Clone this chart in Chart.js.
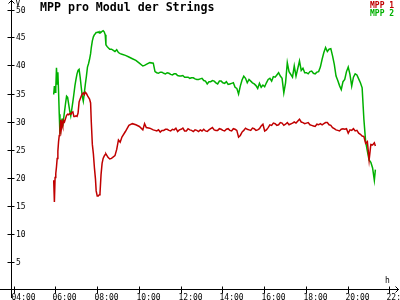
<!DOCTYPE html>
<html>
<head>
<meta charset="utf-8">
<script src="https://cdn.jsdelivr.net/npm/chart.js@4.4.1/dist/chart.umd.min.js"></script>
<style>
  html, body { margin: 0; padding: 0; background: #fff; }
  canvas { display: block; }
</style>
</head>
<body>
<canvas id="myChart" width="400" height="300"></canvas>
<script>
const times = [
  '05:54','05:56','05:58','06:00','06:02','06:04','06:06','06:08','06:10','06:12',
  '06:14','06:16','06:18','06:20','06:22','06:25','06:28','06:31','06:34','06:37',
  '06:40','06:43','06:46','06:49','06:52','06:55','06:58','07:01','07:04','07:07',
  '07:10','07:13','07:16','07:19','07:22','07:25','07:28','07:31','07:34','07:37',
  '07:40','07:42','07:45','07:48','07:51','07:54','07:56','07:59','08:02','08:05',
  '08:07','08:10','08:13','08:16','08:19','08:22','08:24','08:27','08:30','08:35',
  '08:40','08:50','08:55','09:00','09:05','09:10','09:20','09:30','09:40','09:50',
  '10:00','10:10','10:15','10:20','10:30','10:40','10:45','10:50','10:55','11:00',
  '11:05','11:10','11:15','11:20','11:25','11:30','11:35','11:40','11:45','11:50',
  '11:55','12:00','12:05','12:10','12:15','12:20','12:25','12:30','12:35','12:40',
  '12:45','12:50','12:55','13:00','13:05','13:10','13:15','13:20','13:25','13:30',
  '13:35','13:40','13:45','13:50','13:55','14:00','14:05','14:10','14:15','14:20',
  '14:25','14:30','14:35','14:40','14:45','14:50','14:55','15:00','15:05','15:10',
  '15:15','15:20','15:25','15:30','15:35','15:40','15:45','15:50','15:55','16:00',
  '16:05','16:10','16:15','16:20','16:25','16:30','16:35','16:40','16:45','16:50',
  '16:55','17:00','17:05','17:10','17:20','17:25','17:30','17:40','17:45','17:50',
  '17:55','18:00','18:05','18:10','18:15','18:20','18:25','18:30','18:35','18:40',
  '18:45','18:50','18:55','19:00','19:05','19:10','19:15','19:20','19:25','19:30',
  '19:35','19:40','19:45','19:50','19:55','20:00','20:05','20:10','20:15','20:20',
  '20:25','20:30','20:35','20:40','20:45','20:50','20:55','21:00','21:05','21:10',
  '21:15','21:18'
];

const mpp1 = [
  19.6, 15.7, 20.1, 20.8, 22.0, 23.5, 24.8, 26.5, 27.6, 28.5,
  30.4, 28.8, 29.8, 29.3, 30.3, 30.0, 30.6, 31.2, 31.4, 31.3,
  31.5, 31.4, 31.7, 31.8, 31.0, 31.0, 31.1, 31.0, 31.6, 33.6,
  34.1, 34.6, 35.0, 35.2, 34.9, 35.3, 35.1, 34.7, 34.4, 34.1,
  33.4, 30.0, 26.0, 24.3, 21.8, 19.8, 17.7, 16.8, 16.8, 17.0,
  17.3, 20.6, 22.6, 23.5, 23.9, 24.2, 24.3, 24.0, 23.7, 23.4,
  23.5, 24.0, 25.1, 26.8, 26.4, 27.3, 28.3, 29.4, 29.7, 29.5,
  29.2, 28.6, 29.7, 29.0, 28.9, 28.6, 28.5, 28.4, 28.6, 28.2,
  28.5, 28.5, 28.7, 28.7, 28.5, 28.4, 28.7, 28.6, 28.9, 28.3,
  28.6, 28.7, 28.9, 28.4, 28.4, 28.8, 28.6, 28.5, 28.3, 28.6,
  28.5, 28.3, 28.6, 28.4, 28.7, 28.4, 28.3, 28.6, 28.8, 29.0,
  28.6, 28.5, 28.5, 28.8, 28.7, 28.5, 28.4, 28.7, 28.8, 28.5,
  28.4, 28.8, 28.7, 28.5, 27.3, 27.6, 28.2, 28.5, 28.9, 28.7,
  28.6, 28.5, 28.9, 28.8, 28.5, 28.6, 28.8, 29.3, 29.6, 28.4,
  28.6, 29.0, 29.5, 29.4, 29.8, 29.7, 29.4, 29.5, 29.9, 29.8,
  29.4, 29.6, 29.9, 29.5, 29.8, 30.0, 29.8, 30.5, 30.0, 29.9,
  29.7, 29.8, 29.9, 29.5, 29.4, 29.3, 29.2, 29.6, 29.5, 29.7,
  29.5, 29.7, 29.9, 29.9, 29.5, 29.4, 29.0, 28.8, 28.6, 28.5,
  28.4, 28.7, 28.8, 28.7, 28.8, 28.0, 28.6, 28.5, 28.8, 28.4,
  28.5, 28.0, 27.8, 27.5, 27.4, 26.2, 26.5, 23.2, 26.0, 25.9,
  26.3, 25.7
];

const mpp2 = [
  34.9, 36.4, 35.3, 36.0, 39.7, 36.8, 38.9, 35.4, 31.4, 27.8,
  29.6, 28.6, 30.6, 29.2, 30.4, 31.8, 33.3, 34.6, 34.4, 33.2,
  32.0, 31.1, 32.3, 33.6, 35.0, 36.5, 37.6, 38.6, 39.2, 39.4,
  38.0, 36.3, 34.6, 33.7, 35.2, 36.8, 38.2, 39.8, 40.4, 41.2,
  42.2, 43.3, 44.5, 45.2, 45.6, 45.8, 46.0, 46.0, 46.1, 45.9,
  46.1, 46.0, 46.2, 46.3, 46.1, 45.6, 43.8, 43.5, 43.3, 43.0,
  43.0, 42.6, 42.9, 42.4, 42.2, 42.1, 41.9, 41.6, 41.3, 41.0,
  40.5, 40.0, 40.1, 40.3, 40.6, 40.5, 39.0, 38.8, 38.7, 38.9,
  38.9, 38.7, 38.6, 38.8, 38.7, 38.5, 38.4, 38.6, 38.6, 38.3,
  38.2, 38.2, 38.3, 38.0, 38.0, 38.0, 37.8, 37.9, 37.9, 37.7,
  37.6, 37.6, 37.7, 37.8, 37.4, 37.3, 36.8, 37.2, 37.2, 37.4,
  37.3, 37.0, 36.8, 37.3, 37.3, 37.0, 36.9, 37.2, 36.7, 36.8,
  36.9, 37.0, 36.2, 36.0, 35.0, 36.4, 37.5, 38.2, 37.8, 37.0,
  37.6, 37.3, 37.0, 36.8, 36.5, 36.0, 36.9, 36.2, 36.6, 36.3,
  37.0, 37.6, 37.8, 37.3, 38.1, 38.0, 38.4, 38.8, 38.2, 37.8,
  35.2, 37.0, 40.6, 39.0, 38.0, 40.0, 38.2, 40.9, 39.2, 39.6,
  38.8, 38.8, 38.6, 39.0, 39.1, 38.7, 38.6, 38.9, 39.0, 39.8,
  41.2, 42.4, 43.3, 42.6, 43.0, 43.1, 41.8, 40.3, 38.2, 37.4,
  36.5, 35.8, 37.2, 37.6, 39.0, 39.8, 38.5, 36.4, 38.0, 38.6,
  38.4, 37.7, 37.0, 36.1, 30.5, 26.5, 24.8, 23.2, 22.8, 21.8,
  19.6, 21.5
];

const seriesNames = ['MPP 1', 'MPP 2'];
const seriesColors = ['#c00000', '#00b000'];

const yTicks = [5, 10, 15, 20, 25, 30, 35, 40, 45, 50];
const xTicks = [4, 6, 8, 10, 12, 14, 16, 18, 20, 22];
const xTickLabels = ['04:00','06:00','08:00','10:00','12:00','14:00','16:00','18:00','20:00','22:00'];

const chartTitle = 'MPP pro Modul der Strings';
const yUnit = 'V';
const xUnit = 'h';

function toHours(t) {
  const p = t.split(':');
  return Number(p[0]) + Number(p[1]) / 60;
}

// Achsen, Pfeile, Beschriftungen selbst zeichnen
const axesPlugin = {
  id: 'axesPlugin',
  afterDraw(chart) {
    const ctx = chart.ctx;
    const xs = chart.scales.x;
    const ys = chart.scales.y;
    const left = Math.floor(chart.chartArea.left) + 0.5;
    const zeroY = Math.floor(ys.getPixelForValue(0)) - 0.5;

    ctx.save();
    ctx.strokeStyle = '#000';
    ctx.fillStyle = '#000';
    ctx.lineWidth = 1;

    ctx.beginPath();
    ctx.moveTo(left, 0);
    ctx.lineTo(left, 298);
    ctx.moveTo(0, zeroY);
    ctx.lineTo(399, zeroY);
    // Pfeile
    ctx.moveTo(left - 3, 3.5);
    ctx.lineTo(left, 0.5);
    ctx.lineTo(left + 3, 3.5);
    ctx.moveTo(395.5, zeroY - 3);
    ctx.lineTo(398.5, zeroY);
    ctx.lineTo(395.5, zeroY + 3);
    ctx.stroke();

    ctx.font = '8px "DejaVu Sans Mono"';
    ctx.textAlign = 'left';

    ctx.textBaseline = 'middle';
    ctx.beginPath();
    yTicks.forEach(v => {
      const py = Math.floor(ys.getPixelForValue(v)) + 0.5;
      ctx.moveTo(left - 4, py);
      ctx.lineTo(left + 3, py);
      ctx.fillText(String(v), left + 4.5, py + 0.5);
    });
    ctx.stroke();

    ctx.textBaseline = 'alphabetic';
    ctx.beginPath();
    xTicks.forEach((h, i) => {
      const px = Math.floor(xs.getPixelForValue(h)) + 0.5;
      ctx.moveTo(px, zeroY - 3);
      ctx.lineTo(px, zeroY + 4);
      ctx.fillText(xTickLabels[i], px - 3, 300);
    });
    ctx.stroke();

    ctx.fillText(yUnit, left + 4, 5.5);
    ctx.fillText(xUnit, 385, 283);

    // Legende
    ctx.font = 'bold 8px "DejaVu Sans Mono"';
    chart.data.datasets.forEach((ds, i) => {
      ctx.fillStyle = ds.borderColor;
      ctx.fillText(ds.label, 370, 8 + i * 7.5);
    });

    ctx.fillStyle = '#000';
    ctx.font = 'bold 11.6px "DejaVu Sans Mono"';
    ctx.fillText(chartTitle, 40, 11);
    ctx.restore();
  }
};

const datasets = [mpp1, mpp2].map((vals, k) => ({
  label: seriesNames[k],
  data: times.map((t, i) => ({ x: toHours(t), y: vals[i] })),
  borderColor: seriesColors[k],
  borderWidth: 1.5,
  pointRadius: 0,
  tension: 0,
  fill: false
}));

new Chart(document.getElementById('myChart').getContext('2d'), {
  type: 'line',
  data: { datasets: datasets },
  options: {
    responsive: false,
    animation: false,
    devicePixelRatio: 1,
    layout: { padding: { left: 11, right: 1, top: 10, bottom: 10 } },
    plugins: { legend: { display: false }, tooltip: { enabled: false } },
    scales: {
      x: { type: 'linear', min: 3.856, max: 22.431, display: false },
      y: { min: 0, max: 50, display: false }
    }
  },
  plugins: [axesPlugin]
});
</script>
</body>
</html>
